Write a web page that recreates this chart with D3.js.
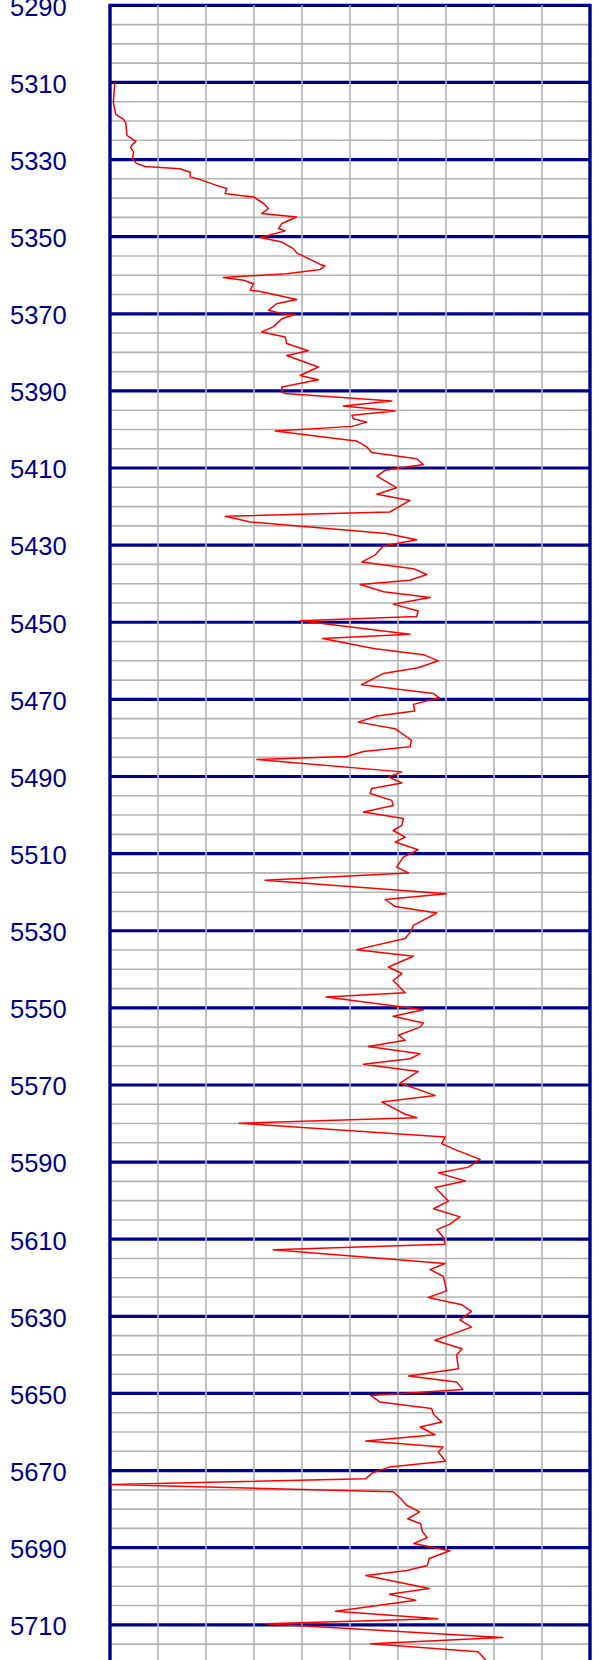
<!DOCTYPE html>
<html>
<head>
<meta charset="utf-8">
<script src="https://cdn.jsdelivr.net/npm/d3@7"></script>
<style>
html,body{margin:0;padding:0;background:#fff;overflow:hidden;}
svg{display:block;}
</style>
</head>
<body>
<script>
// Depth (ft) of each sample, top to bottom
const depths = [
5310.0,5315.2,5318.3,5319.6,5320.5,5323.7,5324.6,5325.3,5326.2,5326.9,5328.0,5329.8,5331.0,5331.8,5332.4,5333.3,5334.5,5335.2,5336.7,5337.5,
5338.8,5339.3,5339.7,5341.4,5342.7,5344.0,5344.9,5346.6,5347.9,5348.5,5350.2,5351.4,5353.1,5354.2,5357.2,5357.6,5358.5,5359.6,5360.6,5361.3,
5362.2,5363.9,5364.2,5366.3,5367.4,5369.1,5370.0,5370.2,5371.3,5373.4,5374.7,5376.0,5377.7,5379.6,5380.8,5383.8,5386.0,5387.1,5389.0,5390.3,
5390.7,5392.6,5393.9,5395.2,5396.3,5397.2,5398.1,5399.2,5400.4,5402.8,5403.0,5404.5,5406.0,5407.6,5409.1,5410.6,5412.1,5415.1,5416.8,5418.4,
5421.4,5422.5,5424.0,5427.0,5428.6,5430.2,5432.6,5434.4,5436.1,5437.6,5439.1,5440.2,5442.1,5443.6,5445.3,5447.1,5448.5,5449.6,5453.1,5454.2,
5456.8,5458.4,5460.0,5461.8,5463.3,5466.2,5468.5,5469.6,5471.3,5473.0,5474.3,5475.9,5477.6,5480.6,5482.3,5483.5,5484.8,5485.6,5488.8,5490.1,
5491.7,5493.1,5494.4,5496.2,5497.5,5499.2,5500.9,5502.7,5504.0,5505.7,5507.0,5509.0,5510.9,5513.5,5515.0,5516.9,5520.4,5521.9,5523.7,5525.4,
5528.6,5529.9,5532.0,5534.9,5536.6,5539.4,5541.1,5542.9,5546.1,5547.2,5550.5,5552.2,5553.9,5555.0,5557.1,5558.4,5560.0,5561.9,5563.2,5564.6,
5566.5,5569.5,5572.7,5574.4,5577.6,5578.5,5579.9,5583.5,5585.2,5586.9,5589.3,5591.3,5592.8,5594.9,5596.6,5600.1,5602.1,5604.2,5606.1,5607.5,
5609.4,5611.3,5612.7,5616.3,5617.9,5619.6,5621.5,5623.4,5625.1,5627.0,5628.7,5630.9,5632.8,5636.2,5638.4,5640.1,5643.6,5645.5,5647.0,5649.0,
5650.5,5652.2,5653.9,5655.4,5657.4,5658.7,5660.7,5662.3,5663.9,5665.2,5667.6,5669.1,5670.6,5672.1,5673.6,5675.5,5677.3,5679.0,5680.7,5682.5,
5683.8,5685.9,5687.4,5688.9,5690.8,5692.8,5694.6,5695.9,5697.2,5700.6,5702.1,5703.6,5706.5,5708.4,5709.7,5713.3,5714.9,5717.0,5719.2,5722.0
];
// Log reading at each depth (0-100 track scale)
const readings = [
1.0,0.7,1.2,2.8,3.3,3.5,4.5,5.4,4.6,4.3,4.9,4.7,5.5,7.3,14.6,16.7,16.7,18.8,22.2,24.3,
24.0,27.1,29.9,32.0,33.0,31.6,38.9,35.8,35.1,36.5,31.3,35.8,38.2,38.9,43.8,44.8,43.8,36.8,23.6,27.8,
29.9,29.2,31.3,38.9,34.7,33.0,36.0,38.5,35.8,34.0,31.6,36.5,36.8,41.3,36.8,43.4,39.6,43.4,35.8,35.8,
36.5,58.7,48.6,59.4,50.4,50.7,53.5,50.4,34.4,50.0,51.4,53.5,54.5,63.9,65.3,57.3,55.6,59.7,55.6,62.5,
58.3,24.0,29.2,57.6,63.9,56.9,55.2,52.4,63.2,66.0,62.5,52.1,57.0,66.7,59.0,64.2,63.9,39.6,62.5,44.3,
54.9,65.3,68.4,64.2,56.9,52.4,67.4,68.6,63.2,63.5,55.6,51.7,59.4,62.8,62.5,52.8,49.3,30.6,60.8,58.0,
60.8,54.5,54.2,58.7,59.0,52.8,61.1,60.8,59.0,61.5,59.4,64.2,61.1,59.7,62.2,32.3,70.1,57.3,59.4,68.1,
63.2,62.8,61.5,51.4,63.2,58.0,60.8,59.0,61.5,45.0,65.3,59.0,65.3,64.6,60.1,61.5,53.8,64.6,62.5,52.8,
64.2,60.4,67.7,56.6,61.5,63.9,26.9,69.8,69.1,72.2,77.1,74.7,68.4,74.0,67.7,70.5,67.4,72.9,70.8,68.1,
69.4,69.8,34.0,69.8,66.7,69.4,69.8,70.1,66.3,73.3,75.3,72.9,75.3,67.7,73.3,72.2,72.6,62.2,72.2,73.5,
54.3,56.2,67.0,67.4,69.1,64.6,67.7,53.3,69.4,68.4,69.9,58.2,54.7,53.3,0.2,59.0,60.6,61.8,64.5,62.0,
64.7,65.1,66.1,63.3,70.8,66.5,66.1,61.8,53.3,66.5,58.2,63.7,47.0,68.3,32.5,81.8,54.3,76.7,78.3,80.0
];
// Depth tick labels
const tickLabels = [5290,5310,5330,5350,5370,5390,5410,5430,5450,5470,5490,5510,5530,5550,5570,5590,5610,5630,5650,5670,5690,5710];
const depthDomain = [5290, 5730];
const trackDomain = [0, 100];

const W = 594, H = 1660;
const navy = "#00008e";
const grey = "#b4b4b4";

const svg = d3.select("body").append("svg").attr("width", W).attr("height", H);

const y = d3.scaleLinear().domain(depthDomain).range([5.3, 5.3 + 440 * 3.856]);
const x = d3.scaleLinear().domain(trackDomain).range([110, 590]);

const minorDepths = d3.range(5290, 5731, 5).filter(d => d % 20 !== 10 || true).filter(d => (d - 5290) % 20 !== 0);
const majorDepths = d3.range(5290, 5731, 20);
const vTicks = d3.range(10, 100, 10);

// minor horizontal grid
svg.append("g").selectAll("line").data(minorDepths).join("line")
  .attr("x1", x(0)).attr("x2", x(100))
  .attr("y1", d => y(d)).attr("y2", d => y(d))
  .attr("stroke", grey).attr("stroke-width", 1.6);

// major horizontal grid
svg.append("g").selectAll("line").data(majorDepths).join("line")
  .attr("x1", x(0)).attr("x2", x(100))
  .attr("y1", d => y(d)).attr("y2", d => y(d))
  .attr("stroke", navy).attr("stroke-width", 3.2);

// vertical grid
svg.append("g").selectAll("line").data(vTicks).join("line")
  .attr("x1", d => x(d)).attr("x2", d => x(d))
  .attr("y1", y(5290)).attr("y2", y(5730))
  .attr("stroke", grey).attr("stroke-width", 1.6);

// track borders
svg.append("g").selectAll("line").data(trackDomain).join("line")
  .attr("x1", d => x(d)).attr("x2", d => x(d))
  .attr("y1", y(5290) - 1.6).attr("y2", y(5730))
  .attr("stroke", navy).attr("stroke-width", 3.4);

// depth labels
svg.append("g").selectAll("text").data(tickLabels).join("text")
  .attr("x", 10).attr("y", d => y(d) + 10.3)
  .attr("font-family", "'Liberation Sans', Arial, sans-serif")
  .attr("font-size", 25.5)
  .attr("fill", navy)
  .text(d => d);

// log curve
const pts = depths.map((d, i) => [d, readings[i]]);
const line = d3.line().x(p => x(p[1])).y(p => y(p[0]));
svg.append("path").datum(pts)
  .attr("d", line)
  .attr("fill", "none")
  .attr("stroke", "#ff0000")
  .attr("stroke-width", 1.5)
  .attr("stroke-linejoin", "round");
</script>
</body>
</html>
